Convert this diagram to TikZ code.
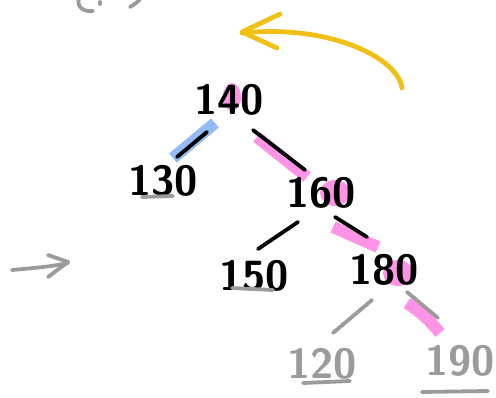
\documentclass[tikz,border=0pt]{standalone}
\usetikzlibrary{calc,backgrounds}
\definecolor{hlpink}{RGB}{255,148,230}
\definecolor{hlblue}{RGB}{145,188,245}
\definecolor{pencil}{RGB}{155,155,155}
\definecolor{marker}{RGB}{240,192,20}

\begin{document}
\begin{tikzpicture}[x=0.025cm,y=-0.025cm,line cap=round,line join=round,
    num/.style={font=\sffamily\bfseries\fontsize{30}{30}\selectfont, inner sep=0pt},
    faintnum/.style={num, text=pencil},
    edge/.style={line width=2.7pt},
    faint/.style={pencil, line width=2.7pt},
    hl/.style={line width=8.5pt}]
            \useasboundingbox (0,0) rectangle (496,397);

            % Nodes
            \node[num] (n140) at (229,100) {140};
            \node[num] (n130) at (163,181) {130};
            \node[num] (n160) at (321,193) {160};
            \node[num] (n150) at (254,276) {150};
            \node[num] (n180) at (384,270) {180};
            \node[faintnum] (n120) at (322,364) {120};
            \node[faintnum] (n190) at (460,361) {190};

            % Highlights
            \begin{scope}[on background layer]
                \fill[hlpink] ($(n140)+(3,-3)$) ellipse [x radius=9, y radius=14];
                \fill[hlpink] ($(n160)+(14,0)$) ellipse [x radius=15, y radius=13];
                \fill[hlpink] ($(n180)+(14,3)$) ellipse [x radius=15, y radius=13];
                \draw[hl, hlblue] ($(n140)+(-14,23)$) -- ($(n130)+(10,-23)$);
                \draw[hl, hlpink] ($(n140)+(28,37)$) -- ($(n160)+(-14,-16)$);
                \draw[hl, hlpink] ($(n160)+(12,34)$) -- ($(n180)+(-6,-23)$);
                \draw[hl, hlpink] ($(n180)+(23,33)$) to[bend left=8] ($(n190)+(-20,-28)$);
            \end{scope}

            % Edges
            \draw[edge] ($(n140)+(-22,32)$) -- ($(n130)+(14,-24)$);
            \draw[edge] ($(n140)+(24,30)$) -- ($(n160)+(-16,-23)$);
            \draw[edge] ($(n160)+(-23,29)$) -- ($(n150)+(4,-27)$);
            \draw[edge] ($(n160)+(14,24)$) -- ($(n180)+(-17,-33)$);
            \draw[faint] ($(n180)+(-12,30)$) -- ($(n120)+(11,-31)$);
            \draw[faint] ($(n180)+(23,22)$) -- ($(n190)+(-22,-43)$);

            % Underlines
            \draw[faint] ($(n130)+(-21,16)$) -- ($(n130)+(10,15)$);
            \draw[faint] ($(n150)+(-22,12)$) -- ($(n150)+(19,14)$);
            \draw[faint] ($(n120)+(-19,19)$) -- ($(n120)+(28,17)$);
            \draw[faint] ($(n190)+(-38,31)$) -- ($(n190)+(28,30)$);

            % Arrows
            \draw[marker, line width=3.4pt] (402,88) .. controls (398,58) and (330,24) .. (242,33);
            \draw[marker, line width=3.4pt] (280,14) -- (242,32) -- (277,48);
            \draw[faint] (12,270) .. controls (35,268) and (55,266) .. (68,263);
            \draw[faint] (48,255) -- (68,262) -- (48,277);

            % Cut-off scribble
            \draw[faint] (79,-2) .. controls (76,8) and (85,12) .. (93,11);
            \draw[faint] (100,2) -- (100,4);
            \draw[faint] (130,7) .. controls (135,4) and (138,2) .. (140,-1);
        \end{tikzpicture}
\end{document}
